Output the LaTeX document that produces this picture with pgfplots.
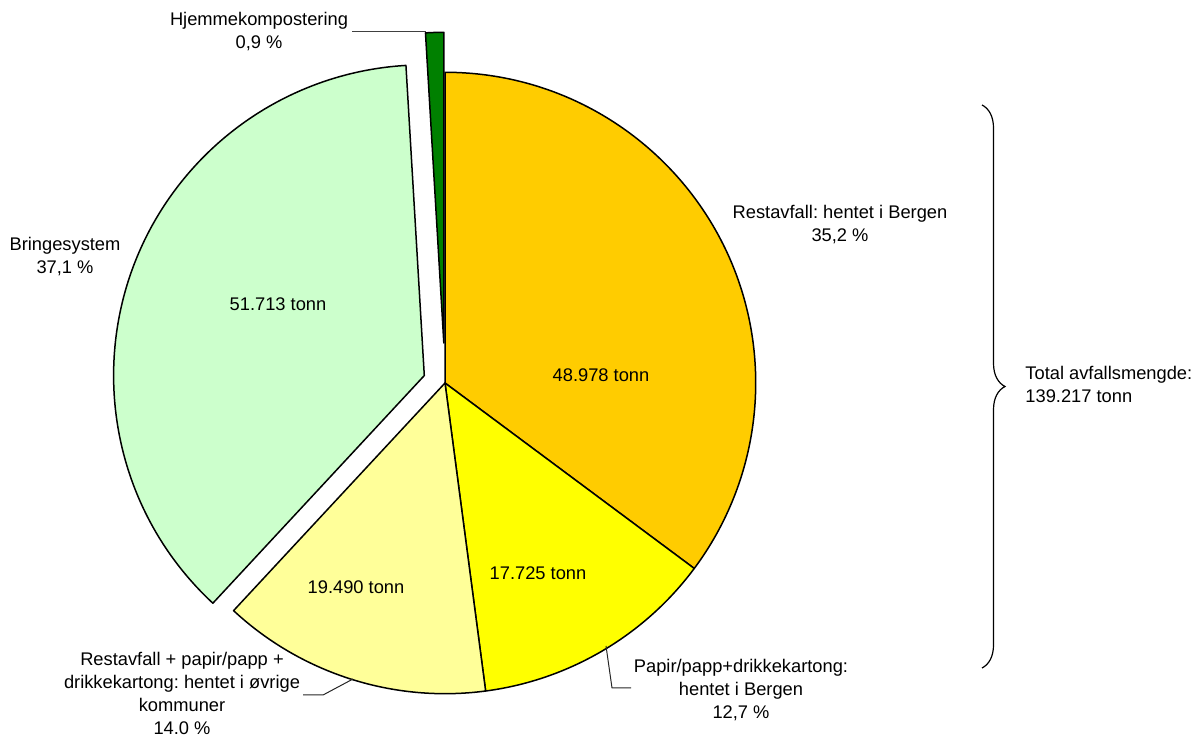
\documentclass[border=0pt]{standalone}
\usepackage{fontspec}
\setmainfont{Liberation Sans}
\usepackage{pgfplots}
\pgfplotsset{compat=1.18}
\usetikzlibrary{decorations.pathreplacing}
\definecolor{cRest}{HTML}{FFCC00}
\definecolor{cPapir}{HTML}{FFFF00}
\definecolor{cOvrig}{HTML}{FFFF99}
\definecolor{cBringe}{HTML}{CCFFCC}
\definecolor{cHjem}{HTML}{008000}
\tikzset{lbl/.style={font=\fontsize{9.15}{11.5}\selectfont, text=black, inner sep=0pt}}
% values in thousand tonnes; total 139.217
\newcommand\total{139.217}
\newcommand\slice[4]{% #1 cumulative start, #2 value, #3 colour, #4 explode (px)
  \pgfmathsetmacro\sa{90-360*(#1/\total)}%
  \pgfmathsetmacro\ea{90-360*((#1+#2)/\total)}%
  \pgfmathsetmacro\ma{(\sa+\ea)/2}%
  \pgfmathsetmacro\cx{445+#4*cos(\ma)}%
  \pgfmathsetmacro\cy{354+#4*sin(\ma)}%
  \edef\temp{\noexpand\filldraw[fill=#3,draw=black,line width=0.75pt,line join=round]
    (axis cs:\cx,\cy) -- ++(\sa:155.35pt) arc[start angle=\sa, end angle=\ea, radius=155.35pt] -- cycle;}%
  \temp}
\begin{document}
\frenchspacing
\begin{tikzpicture}
\begin{axis}[x=0.5pt,y=0.5pt,xmin=0,xmax=1197,ymin=0,ymax=737,
  hide axis, clip=false]
\path (rel axis cs:0,0) rectangle (rel axis cs:1,1);
\slice{0}{48.978}{cRest}{0}
\slice{48.978}{17.725}{cPapir}{0}
\slice{66.703}{19.490}{cOvrig}{0}
\slice{86.193}{51.713}{cBringe}{22}
\slice{137.906}{1.311}{cHjem}{40}
% interior labels
\node[lbl] at (axis cs:278,433) {51.713 tonn};
\node[lbl] at (axis cs:601,362) {48.978 tonn};
\node[lbl] at (axis cs:538,164) {17.725 tonn};
\node[lbl] at (axis cs:356,150) {19.490 tonn};
% outer labels
\node[lbl,align=center] at (axis cs:259,705) {Hjemmekompostering\\0,9 \%};
\node[lbl,align=center] at (axis cs:840,512.5) {Restavfall: hentet i Bergen\\35,2 \%};
\node[lbl,align=center] at (axis cs:65,480.5) {Bringesystem\\37,1 \%};
\node[lbl,align=center] at (axis cs:741,47) {Papir/papp+drikkekartong:\\hentet i Bergen\\12,7 \%};
\node[lbl,align=center] at (axis cs:182,44) {Restavfall + papir/papp +\\drikkekartong: hentet i øvrige\\kommuner\\14.0 \%};
\node[lbl,align=left,anchor=west] at (axis cs:1025,352.5) {Total avfallsmengde:\\139.217 tonn};
% leader lines
\draw[black!75,line width=0.5pt] (axis cs:352,705) -- (axis cs:426,705);
\draw[black!85,line width=0.5pt] (axis cs:606,91) -- (axis cs:612,49) -- (axis cs:631,49);
\draw[black!85,line width=0.5pt] (axis cs:303,42) -- (axis cs:323,42) -- (axis cs:353,58);
% brace
\draw[black,line width=0.6pt,decorate,decoration={brace,amplitude=11.5pt}]
  (axis cs:982,632) -- (axis cs:982,69);
\end{axis}
\pgfresetboundingbox
\path (current axis.south west) rectangle (current axis.north east);
\end{tikzpicture}
\end{document}
